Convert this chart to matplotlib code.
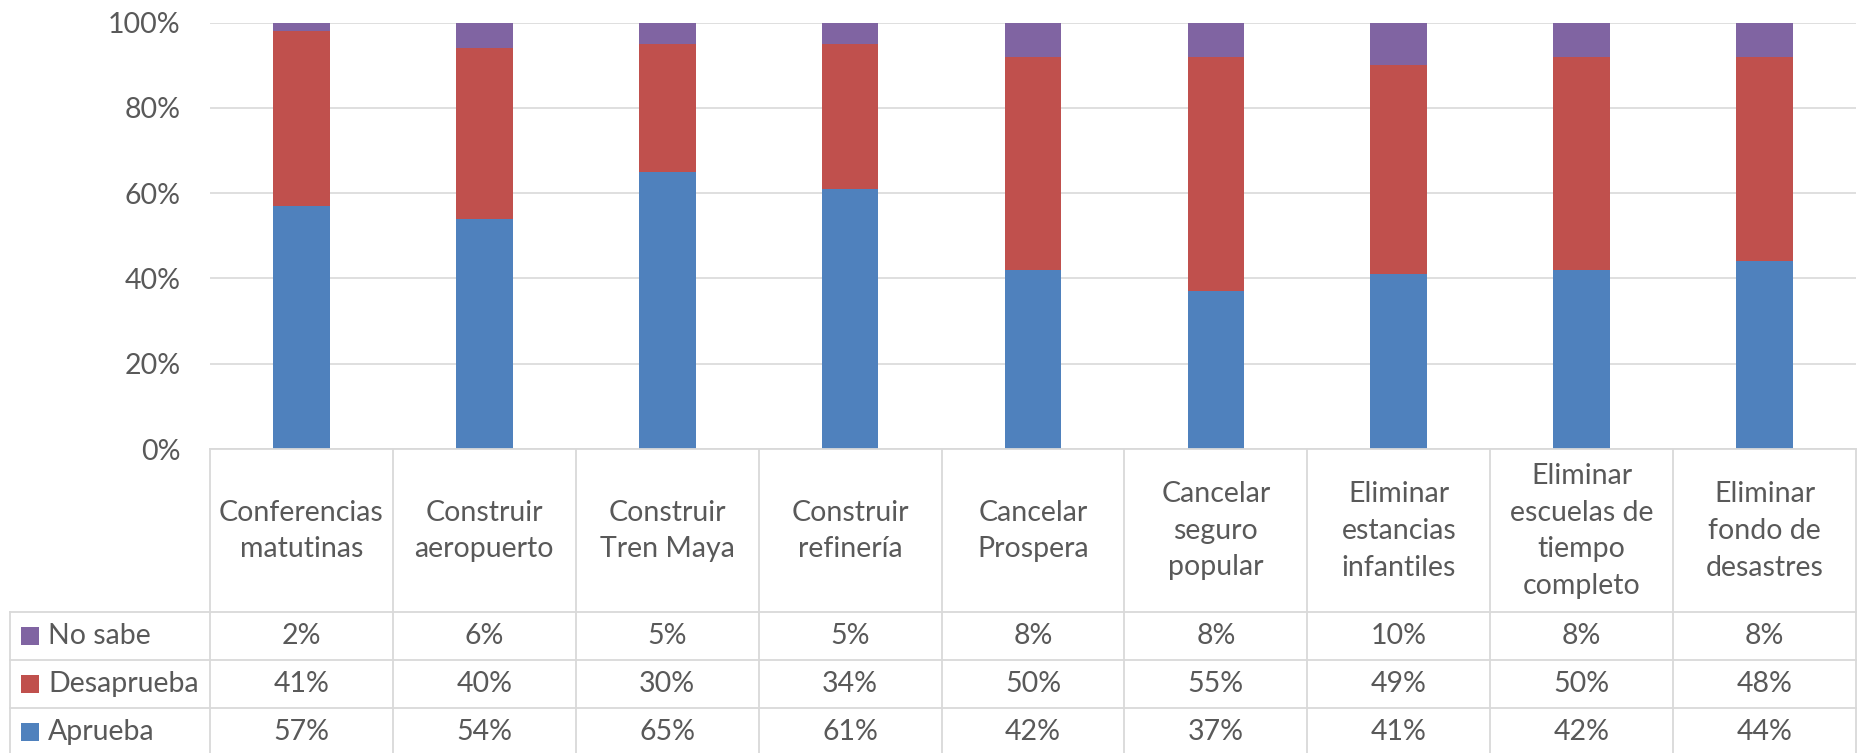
import matplotlib.pyplot as plt
from matplotlib.lines import Line2D
from matplotlib.patches import Rectangle
from matplotlib.transforms import blended_transform_factory

plt.rcParams['font.family'] = ['Lato', 'DejaVu Sans']

categories = ["Conferencias\nmatutinas", "Construir\naeropuerto", "Construir\nTren Maya",
              "Construir\nrefinería", "Cancelar\nProspera", "Cancelar\nseguro\npopular",
              "Eliminar\nestancias\ninfantiles", "Eliminar\nescuelas de\ntiempo\ncompleto",
              "Eliminar\nfondo de\ndesastres"]
aprueba = [57, 54, 65, 61, 42, 37, 41, 42, 44]
desaprueba = [41, 40, 30, 34, 50, 55, 49, 50, 48]
no_sabe = [2, 6, 5, 5, 8, 8, 10, 8, 8]

c_blue, c_red, c_purple = "#4F81BD", "#C0504D", "#8064A2"
txt = "#595959"
grid = "#D9D9D9"
fs = 20.5

W, H = 1858, 753
fig = plt.figure(figsize=(W / 100, H / 100), dpi=100)
ax = fig.add_axes([210 / W, 1 - 449 / H, (1856 - 210) / W, (449 - 22.5) / H])

x = list(range(len(categories)))
bw = 0.31
ax.bar(x, aprueba, bw, color=c_blue, zorder=3)
ax.bar(x, desaprueba, bw, bottom=aprueba, color=c_red, zorder=3)
bottom2 = [a + d for a, d in zip(aprueba, desaprueba)]
ax.bar(x, no_sabe, bw, bottom=bottom2, color=c_purple, zorder=3)

ax.set_xlim(-0.5, len(categories) - 0.5)
ax.set_ylim(0, 100)
ax.set_yticks(range(0, 101, 20))
ax.set_yticklabels([f"{v}%" for v in range(0, 101, 20)], fontsize=fs, color=txt)
ax.set_xticks([])
ax.tick_params(axis="y", length=0, pad=21)
ax.grid(axis="y", color=grid, linewidth=1.2, zorder=0)
for s in ax.spines.values():
    s.set_visible(False)

# data table below the chart
def yf(px):
    return 1 - px / H

tr = blended_transform_factory(ax.transData, fig.transFigure)
lw = 1.3
# vertical lines of the columns
for i in range(len(categories) + 1):
    fig.add_artist(Line2D([i - 0.5, i - 0.5], [yf(449), yf(760)], transform=tr, color=grid, lw=lw))
# horizontal lines
fig.add_artist(Line2D([210 / W, 1856 / W], [yf(449), yf(449)], color=grid, lw=lw))
for py in [612, 660, 708]:
    fig.add_artist(Line2D([10 / W, 1856 / W], [yf(py), yf(py)], color=grid, lw=lw))
fig.add_artist(Line2D([10 / W, 10 / W], [yf(612), yf(760)], color=grid, lw=lw))

for i, cat in enumerate(categories):
    fig.text(i, yf(531), cat, transform=tr, ha="center", va="center",
             fontsize=fs, color=txt, linespacing=1.5)

rows = [("No sabe", no_sabe, c_purple), ("Desaprueba", desaprueba, c_red), ("Aprueba", aprueba, c_blue)]
for r, (name, vals, col) in enumerate(rows):
    cy = 636 + 48 * r
    fig.add_artist(Rectangle((21 / W, yf(cy + 9)), 18 / W, 18 / H, transform=fig.transFigure,
                             color=col, lw=0))
    fig.text(48 / W, yf(cy), name, ha="left", va="center", fontsize=fs, color=txt)
    for i, v in enumerate(vals):
        fig.text(i, yf(cy), f"{v}%", transform=tr, ha="center", va="center",
                 fontsize=fs, color=txt)

fig.savefig("out.png", dpi=100)
